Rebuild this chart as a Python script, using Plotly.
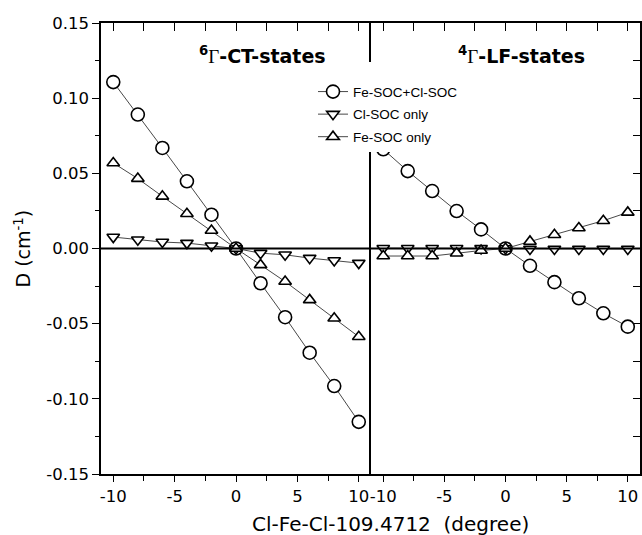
import plotly.graph_objects as go

# ---- data ----
angles = [-10, -8, -6, -4, -2, 0, 2, 4, 6, 8, 10]

# 6Gamma-CT-states (left panel)
ct_fe_cl = [0.1107, 0.0891, 0.0669, 0.0447, 0.0225, 0.0, -0.0231, -0.0457, -0.0693, -0.0915, -0.1153]
ct_cl    = [0.0076, 0.0058, 0.0043, 0.0036, 0.0018, 0.0, -0.0031, -0.0042, -0.0064, -0.0080, -0.0097]
ct_fe    = [0.0569, 0.0465, 0.0347, 0.0231, 0.0120, 0.0, -0.0109, -0.0220, -0.0342, -0.0464, -0.0587]

# 4Gamma-LF-states (right panel)
lf_fe_cl = [0.0660, 0.0515, 0.0382, 0.0249, 0.0127, 0.0, -0.0115, -0.0224, -0.0331, -0.0431, -0.0520]
lf_cl    = [0.0002, 0.0002, 0.0002, 0.0002, 0.0001, 0.0, -0.0003, -0.0003, -0.0003, -0.0003, -0.0003]
lf_fe    = [-0.0050, -0.0050, -0.0050, -0.0032, -0.0013, 0.0, 0.0047, 0.0091, 0.0136, 0.0185, 0.0240]

series_names = ["Fe-SOC+Cl-SOC", "Cl-SOC only", "Fe-SOC only"]

x_tickvals = [-10, -5, 0, 5, 10]
x_ticktext = ["-10", "-5", "0", "5", "10"]
y_tickvals = [-0.15, -0.10, -0.05, 0.0, 0.05, 0.10, 0.15]
y_ticktext = ["-0.15", "-0.10", "-0.05", "0.00", "0.05", "0.10", "0.15"]

# ---- style ----
FONT = "DejaVu Sans"
LFONT = "Liberation Sans"
symbols = ["circle", "triangle-down", "triangle-up"]
msizes = [13, 11, 11]
line_col = "#333333"
HIDDEN = dict(color="rgba(0,0,0,0)", size=2)

fig = go.Figure()

left = [ct_fe_cl, ct_cl, ct_fe]
right = [lf_fe_cl, lf_cl, lf_fe]

for i, (name, ys) in enumerate(zip(series_names, left)):
    fig.add_trace(go.Scatter(
        x=angles, y=ys, name=name, mode="lines+markers",
        xaxis="x", yaxis="y", legendgroup=name,
        line=dict(color=line_col, width=0.9),
        marker=dict(symbol=symbols[i], size=msizes[i], color="white",
                    line=dict(color="black", width=1.6)),
    ))
for i, (name, ys) in enumerate(zip(series_names, right)):
    fig.add_trace(go.Scatter(
        x=angles, y=ys, name=name, mode="lines+markers",
        xaxis="x2", yaxis="y2", legendgroup=name, showlegend=False,
        line=dict(color=line_col, width=0.9),
        marker=dict(symbol=symbols[i], size=msizes[i], color="white",
                    line=dict(color="black", width=1.6)),
    ))

# invisible traces that carry the top (inward-pointing) tick axes
fig.add_trace(go.Scatter(x=angles, y=ct_fe_cl, xaxis="x3", yaxis="y", mode="markers",
                         marker=dict(opacity=0), showlegend=False, hoverinfo="skip"))
fig.add_trace(go.Scatter(x=angles, y=lf_fe_cl, xaxis="x4", yaxis="y2", mode="markers",
                         marker=dict(opacity=0), showlegend=False, hoverinfo="skip"))

split = 0.501
xcommon = dict(range=[-11, 11], showgrid=False, zeroline=False, showline=True,
               linecolor="black", linewidth=1.5, mirror=True,
               ticks="outside", ticklen=6, tickwidth=1.2, tickcolor="black",
               tickmode="array", tickvals=x_tickvals, ticktext=x_ticktext,
               minor=dict(ticks="outside", ticklen=5, tickwidth=1.2, tickcolor="black",
                          tickmode="linear", tick0=0, dtick=2.5),
               tickfont=dict(family=FONT, size=16.5, color="black"))
xtop = dict(range=[-11, 11], showgrid=False, zeroline=False, side="top",
            ticks="inside", ticklen=8, tickwidth=1.2, tickcolor="black",
            tick0=0, dtick=2.5, tickfont=HIDDEN, automargin=False)

fig.update_layout(
    width=642, height=535,
    margin=dict(l=101, r=2, t=23, b=61),
    paper_bgcolor="white", plot_bgcolor="white",
    xaxis=dict(domain=[0, split], anchor="y", **xcommon),
    xaxis2=dict(domain=[split, 1], anchor="y2", **xcommon),
    xaxis3=dict(overlaying="x", anchor="y", **xtop),
    xaxis4=dict(overlaying="x2", anchor="y2", **xtop),
    yaxis=dict(range=[-0.15, 0.15], anchor="x", showgrid=False, zeroline=False,
               showline=True, linecolor="black", linewidth=1.5, mirror=False,
               ticks="outside", ticklen=7, tickwidth=1.2, tickcolor="black",
               tickmode="array", tickvals=y_tickvals, ticktext=y_ticktext,
               minor=dict(ticks="outside", ticklen=4, tickwidth=1.2, tickcolor="black",
                          tickmode="linear", tick0=0, dtick=0.025),
               tickfont=dict(family=FONT, size=16.5, color="black")),
    yaxis2=dict(range=[-0.15, 0.15], anchor="x2", side="right", showgrid=False,
                zeroline=False, showline=True, linecolor="black", linewidth=1.5,
                mirror=True, ticks="inside", ticklen=7, tickwidth=1.2, tickcolor="black",
                tick0=0, dtick=0.025, tickfont=HIDDEN, automargin=False),
    showlegend=True,
    legend=dict(x=(313 - 101) / 539, y=(474 - 62) / 451, xanchor="left", yanchor="top",
                bgcolor="white", borderwidth=0, tracegroupgap=2,
                title=dict(text=" ", font=dict(family=LFONT, size=11)),
                font=dict(family=LFONT, size=13.5, color="black")),
    shapes=[dict(type="line", xref="paper", yref="y", x0=0, x1=1, y0=0, y1=0,
                 line=dict(color="black", width=2), layer="above")],
    annotations=[
        dict(text="<b><sup>6</sup><span style='font-family:Liberation Serif;font-weight:normal'>Γ</span>-CT-states</b>",
             xref="paper", yref="paper", x=(262 - 101) / 539, y=(474 - 55) / 451,
             showarrow=False, xanchor="center", yanchor="middle",
             font=dict(family=FONT, size=19, color="black")),
        dict(text="<b><sup>4</sup><span style='font-family:Liberation Serif;font-weight:normal'>Γ</span>-LF-states</b>",
             xref="paper", yref="paper", x=(521 - 101) / 539, y=(474 - 55) / 451,
             showarrow=False, xanchor="center", yanchor="middle",
             font=dict(family=FONT, size=19, color="black")),
        dict(text="Cl-Fe-Cl-109.4712  (degree)", xref="paper", yref="paper",
             x=(390 - 101) / 539, y=(474 - 524) / 451, showarrow=False,
             xanchor="center", yanchor="middle",
             font=dict(family=FONT, size=20, color="black")),
        dict(text="D (cm<sup>-1</sup>)", xref="paper", yref="paper",
             x=(22 - 101) / 539, y=0.5, textangle=-90, showarrow=False,
             xanchor="center", yanchor="middle",
             font=dict(family=FONT, size=19, color="black")),
    ],
)

fig.write_html("out.html", config={"displayModeBar": False},
               post_script="document.body.style.margin='0';document.body.style.overflow='hidden';")
